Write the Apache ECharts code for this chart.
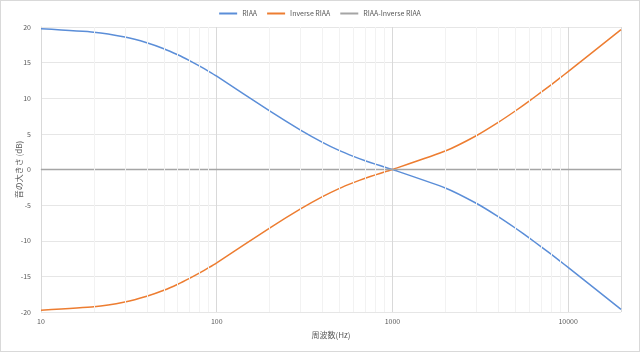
<!DOCTYPE html>
<html><head><meta charset="utf-8">
<script src="https://cdn.jsdelivr.net/npm/echarts@6/dist/echarts.min.js"></script>
<style>html,body{margin:0;padding:0;background:#fff}#c{width:640px;height:352px;box-sizing:border-box;border:1px solid #d9d9d9}</style>
</head><body><div id="c"></div>
<script>
const freqs = [10,20,30,40,50,60,70,80,90,100,200,300,400,500,600,700,800,900,1000,2000,3000,4000,5000,6000,7000,8000,9000,10000,20000];
const riaa = [19.74,19.27,18.59,17.79,16.95,16.10,15.28,14.51,13.78,13.09,8.22,5.53,3.81,2.64,1.84,1.23,0.75,0.35,0,-2.59,-4.74,-6.61,-8.21,-9.60,-10.82,-11.89,-12.86,-13.73,-19.62];
const inverseRiaa = [-19.74,-19.27,-18.59,-17.79,-16.95,-16.10,-15.28,-14.51,-13.78,-13.09,-8.22,-5.53,-3.81,-2.64,-1.84,-1.23,-0.75,-0.35,0,2.59,4.74,6.61,8.21,9.60,10.82,11.89,12.86,13.73,19.62];
const difference = [0,0,0,0,0,0,0,0,0,0,0,0,0,0,0,0,0,0,0,0,0,0,0,0,0,0,0,0,0];
const minorGrid = [20,30,40,50,60,70,80,90,200,300,400,500,600,700,800,900,2000,3000,4000,5000,6000,7000,8000,9000];
const seriesNames = ['RIAA','Inverse RIAA','RIAA-Inverse RIAA'];
const font = 'Noto Sans CJK JP, Noto Sans, sans-serif';
const chart = echarts.init(document.getElementById('c'));
const pairs = a => freqs.map((f,i)=>[f,a[i]]);
chart.setOption({
  animation:false,
  textStyle:{fontFamily:font},
  legend:{top:4,left:'center',itemWidth:18,itemHeight:2,itemGap:10,icon:'rect',
    textStyle:{fontSize:7,color:'#595959',fontFamily:font},data:seriesNames},
  grid:{left:40,right:18,top:26,bottom:39,outerBoundsMode:'none',containLabel:false},
  xAxis:{type:'log',logBase:10,min:10,max:20000,
    name:'周波数(Hz)',nameLocation:'middle',nameGap:19,nameTextStyle:{fontSize:8,color:'#595959'},
    axisLine:{lineStyle:{color:'#d9d9d9'}},axisTick:{show:false},
    axisLabel:{fontSize:7,color:'#595959',margin:6,showMaxLabel:false,formatter:v=>String(Math.round(v))},
    splitLine:{show:true,lineStyle:{color:'#d9d9d9'}}},
  yAxis:{type:'value',min:-20,max:20,interval:5,
    name:'音の大きさ (dB)',nameLocation:'middle',nameGap:18,nameMoveOverlap:false,nameTextStyle:{fontSize:8,color:'#595959'},
    axisLine:{show:true,lineStyle:{color:'#d9d9d9'}},axisTick:{show:false},
    axisLabel:{fontSize:7,color:'#595959',margin:10},
    splitLine:{lineStyle:{color:'#e6e6e6'}}},
  series:[
    {type:'line',name:'minor',data:[],silent:true,z:0,
      markLine:{silent:true,symbol:'none',label:{show:false},
        lineStyle:{color:'#f2f2f2',width:1,type:'solid'},
        data:minorGrid.map(v=>({xAxis:v}))}},
    {type:'line',name:seriesNames[0],data:pairs(riaa),smooth:0.15,showSymbol:false,
      lineStyle:{color:'#5B8ED8',width:1.5},itemStyle:{color:'#5B8ED8'}},
    {type:'line',name:seriesNames[1],data:pairs(inverseRiaa),smooth:0.15,showSymbol:false,
      lineStyle:{color:'#ED7D31',width:1.5},itemStyle:{color:'#ED7D31'}},
    {type:'line',name:seriesNames[2],data:pairs(difference),showSymbol:false,
      lineStyle:{color:'#A5A5A5',width:1.5},itemStyle:{color:'#A5A5A5'}}
  ]
});
</script></body></html>
